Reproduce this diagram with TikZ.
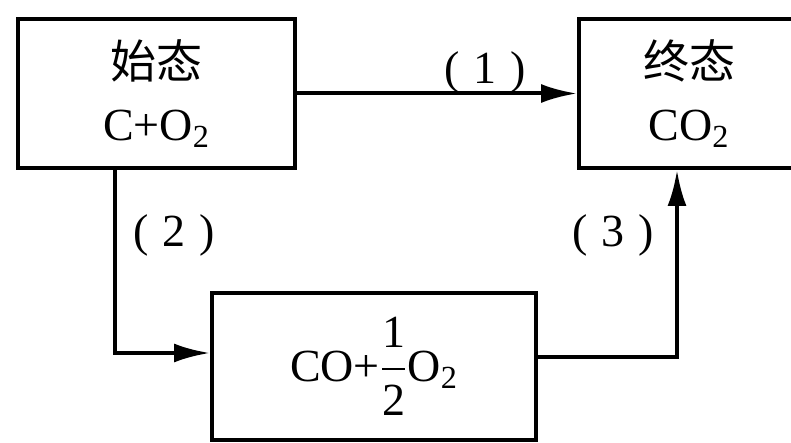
\documentclass[tikz,border=0pt]{standalone}
\usepackage{amsmath}
\usepackage{fontspec}
\setmainfont{Liberation Serif}
\newfontfamily\cjk{Noto Sans CJK SC}
\usepackage{tikz}
\usetikzlibrary{arrows.meta,positioning,calc}
\tikzset{%
  box/.style={draw,line width=2pt,align=center,inner sep=0pt},
  arrow/.style={-{Latex[length=18pt,width=9.5pt]},line width=2pt},
  lbl/.style={inner sep=0pt}%
}
\newcommand{\pnum}[1]{(\hspace{0.3em}#1\hspace{0.3em})}

\begin{document}
\begin{tikzpicture}[
    x=0.5pt,y=-0.5pt,
    font=\fontsize{23}{30}\selectfont,
    state/.style={
        box,
        minimum height=74.5pt
    }
]
\useasboundingbox (0,0) rectangle (791,443);
\clip (0,0) rectangle (791,443);

% States
\node[state, minimum width=138.5pt] (start) at (156.5,93.5) {{\cjk 始态}\\[1pt]C+O\textsubscript{2}};
\node[state, minimum width=110pt] (final) at (689,93.5) {{\cjk 终态}\\[1pt]CO\textsubscript{2}};
\node[state, minimum width=162pt, minimum height=73.5pt] (mid) at (374,366.5) {CO+$\dfrac{\text{1}}{\text{2}}$O\textsubscript{2}};

% Path labels
\node[lbl] (p1) at (485,72) {\pnum{1}};
\node[lbl] (p2) at (174,235) {\pnum{2}};
\node[lbl] (p3) at (613,235) {\pnum{3}};

% Connections
\draw[arrow] (start.east) -- (final.west);
\draw[arrow] ([xshift=-20.75pt]start.south) |- ([yshift=6.75pt]mid.west);
\draw[arrow] ([yshift=4.75pt]mid.east) -| ([xshift=-6pt]final.south);

\end{tikzpicture}
\end{document}
